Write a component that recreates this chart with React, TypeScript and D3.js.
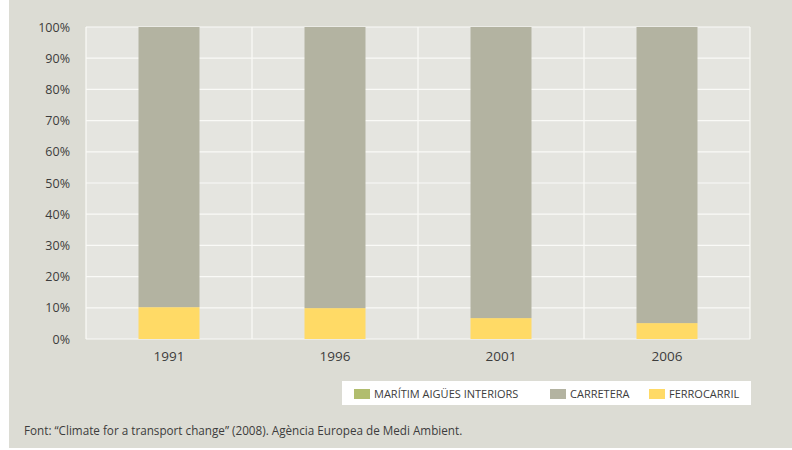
import { useEffect, useRef } from "react";
import * as d3 from "d3";

const years = ["1991", "1996", "2001", "2006"];
const maritim = [0, 0, 0, 0];
const ferrocarril = [10.2, 9.9, 6.7, 5.1];
const carretera = [89.8, 90.1, 93.3, 94.9];
const yTicks = [0, 10, 20, 30, 40, 50, 60, 70, 80, 90, 100];

const seriesNames = ["FERROCARRIL", "CARRETERA", "MARÍTIM AIGÜES INTERIORS"];
const seriesColors = ["#ffda66", "#b3b3a1", "#b1bd6e"];
const legendOrder = [2, 1, 0];

const FONT = "'Open Sans', sans-serif";

export default function App() {
  const ref = useRef<SVGSVGElement>(null);

  useEffect(() => {
    if (!ref.current) return;
    const svg = d3.select(ref.current);
    svg.selectAll("*").remove();

    const W = 792;
    const plot = { left: 86, right: 750, top: 27, bottom: 339 };

    // panel background
    svg.append("rect").attr("x", 9).attr("y", 0).attr("width", W - 9).attr("height", 448).attr("fill", "#dcdcd4");

    const x = d3.scaleBand().domain(years).range([plot.left, plot.right]).paddingInner(0).paddingOuter(0);
    const y = d3.scaleLinear().domain([0, 100]).range([plot.bottom, plot.top]);

    svg.append("rect")
      .attr("x", plot.left).attr("y", plot.top)
      .attr("width", plot.right - plot.left).attr("height", plot.bottom - plot.top)
      .attr("fill", "#e5e5e0");

    // grid
    svg.append("g").selectAll("line")
      .data(yTicks)
      .join("line")
      .attr("x1", plot.left).attr("x2", plot.right)
      .attr("y1", (d) => y(d)).attr("y2", (d) => y(d))
      .attr("stroke", "#fafaf7").attr("stroke-width", 1.2);

    const vx = years.map((d) => x(d)!).concat([plot.right]);
    svg.append("g").selectAll("line")
      .data(vx)
      .join("line")
      .attr("x1", (d) => d).attr("x2", (d) => d)
      .attr("y1", plot.top).attr("y2", plot.bottom)
      .attr("stroke", "#fafaf7").attr("stroke-width", 1.2);

    // stacked bars
    const rows = years.map((yr, i) => ({ year: yr, FERROCARRIL: ferrocarril[i], CARRETERA: carretera[i], "MARÍTIM AIGÜES INTERIORS": maritim[i] }));
    const stacked = d3.stack<any>().keys(seriesNames)(rows);
    const barW = 61;

    svg.append("g").selectAll("g")
      .data(stacked)
      .join("g")
      .attr("fill", (_d, i) => seriesColors[i])
      .selectAll("rect")
      .data((d) => d)
      .join("rect")
      .attr("x", (d: any) => x(d.data.year)! + x.bandwidth() / 2 - barW / 2)
      .attr("width", barW)
      .attr("y", (d) => y(d[1]))
      .attr("height", (d) => y(d[0]) - y(d[1]));

    // y axis labels
    svg.append("g").selectAll("text")
      .data(yTicks)
      .join("text")
      .attr("x", 70).attr("y", (d) => y(d))
      .attr("dy", "0.36em")
      .attr("text-anchor", "end")
      .attr("font-family", FONT).attr("font-size", 12.5)
      .attr("fill", "#3c3c3c")
      .text((d) => `${d}%`);

    // x labels
    svg.append("g").selectAll("text")
      .data(years)
      .join("text")
      .attr("x", (d) => x(d)! + x.bandwidth() / 2)
      .attr("y", 361)
      .attr("text-anchor", "middle")
      .attr("font-family", FONT).attr("font-size", 13.5)
      .attr("fill", "#3c3c3c")
      .text((d) => d);

    // legend
    const lg = svg.append("g");
    lg.append("rect").attr("x", 342).attr("y", 381).attr("width", 409).attr("height", 24).attr("fill", "#ffffff");
    const legendX = [354, 550, 649];
    legendOrder.forEach((si, k) => {
      lg.append("rect").attr("x", legendX[k]).attr("y", 389).attr("width", 16).attr("height", 10).attr("fill", seriesColors[si]);
      lg.append("text")
        .attr("x", legendX[k] + 20).attr("y", 398)
        .attr("font-family", FONT).attr("font-size", 11)
        .attr("fill", "#3c3c3c")
        .text(seriesNames[si]);
    });

    // source
    svg.append("text")
      .attr("x", 24).attr("y", 435)
      .attr("font-family", FONT).attr("font-size", 11.7)
      .attr("fill", "#3c3c3c")
      .text("Font: \u201CClimate for a transport change\u201D (2008). Agència Europea de Medi Ambient.");
  }, []);

  return (
    <svg ref={ref} width={792} height={450} style={{ position: "absolute", left: 0, top: 0, background: "#ffffff" }} />
  );
}
